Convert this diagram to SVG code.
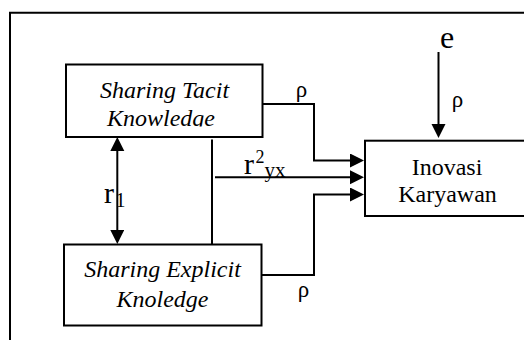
<svg xmlns="http://www.w3.org/2000/svg" width="524" height="340" viewBox="0 0 524 340">
  <style>
    .box { fill: #fff; stroke: #000; stroke-width: 2; }
    .wire { fill: none; stroke: #000; stroke-width: 2; }
    text { font-family: 'Liberation Serif', 'Times New Roman', serif; fill: #000; }
    .it { font-style: italic; }
  </style>
  <defs>
    <marker id="head" markerUnits="userSpaceOnUse" markerWidth="15" markerHeight="15" refX="10" refY="7" orient="auto-start-reverse">
      <path d="M0,0 L14,7 L0,14 z" fill="#000"/>
    </marker>
    <!-- the second line of the top-left box is cut off at its baseline -->
    <clipPath id="tacitClip">
      <rect x="66" y="64" width="197" height="62.5"/>
    </clipPath>
  </defs>

  <rect width="524" height="340" fill="#fff"/>

  <!-- outer frame (runs past the right and bottom edges) -->
  <path class="wire" d="M10,345 V12.8 H530" stroke-width="1.8"/>

  <g id="tacit">
    <rect class="box" x="66" y="64.5" width="196.5" height="72.5"/>
    <g clip-path="url(#tacitClip)">
      <text class="it" font-size="24" x="164.5" y="98" text-anchor="middle">Sharing Tacit</text>
      <text class="it" font-size="24" x="161" y="126" text-anchor="middle">Knowledge</text>
    </g>
  </g>

  <g id="explicit">
    <rect class="box" x="64" y="244.5" width="197.5" height="81"/>
    <text class="it" font-size="24" x="162.5" y="276.5" text-anchor="middle">Sharing Explicit</text>
    <text class="it" font-size="24" x="162.5" y="306.5" text-anchor="middle">Knoledge</text>
  </g>

  <g id="inovasi">
    <rect class="box" x="365" y="140.7" width="165" height="75.3"/>
    <text font-size="24" x="447" y="175" text-anchor="middle">Inovasi</text>
    <text font-size="24" x="447.5" y="201.5" text-anchor="middle">Karyawan</text>
  </g>

  <g id="connectors">
    <path class="wire" d="M262.5,104 H314 V160.5 H360" marker-end="url(#head)"/>
    <path class="wire" d="M215,177.3 H360" marker-end="url(#head)"/>
    <path class="wire" d="M261.5,275 H314 V194.5 H360" marker-end="url(#head)"/>
    <path class="wire" d="M212,139.5 V244"/>
    <path class="wire" d="M117.3,141 V240" marker-start="url(#head)" marker-end="url(#head)"/>
    <path class="wire" d="M438.5,52 V134" marker-end="url(#head)"/>
  </g>

  <g id="labels">
    <text font-size="23" x="301.5" y="97" text-anchor="middle">ρ</text>
    <text font-size="23" x="457.5" y="107" text-anchor="middle">ρ</text>
    <text font-size="23" x="303.5" y="296.5" text-anchor="middle">ρ</text>
    <text font-size="32" x="447" y="48" text-anchor="middle">e</text>
    <text font-size="30" x="104" y="203">r<tspan x="115.5" y="207" font-size="20">1</tspan></text>
    <text font-size="30" x="244" y="174">r<tspan x="255.5" y="163" font-size="18">2</tspan><tspan x="264.5" y="177" font-size="21">yx</tspan></text>
  </g>
</svg>
